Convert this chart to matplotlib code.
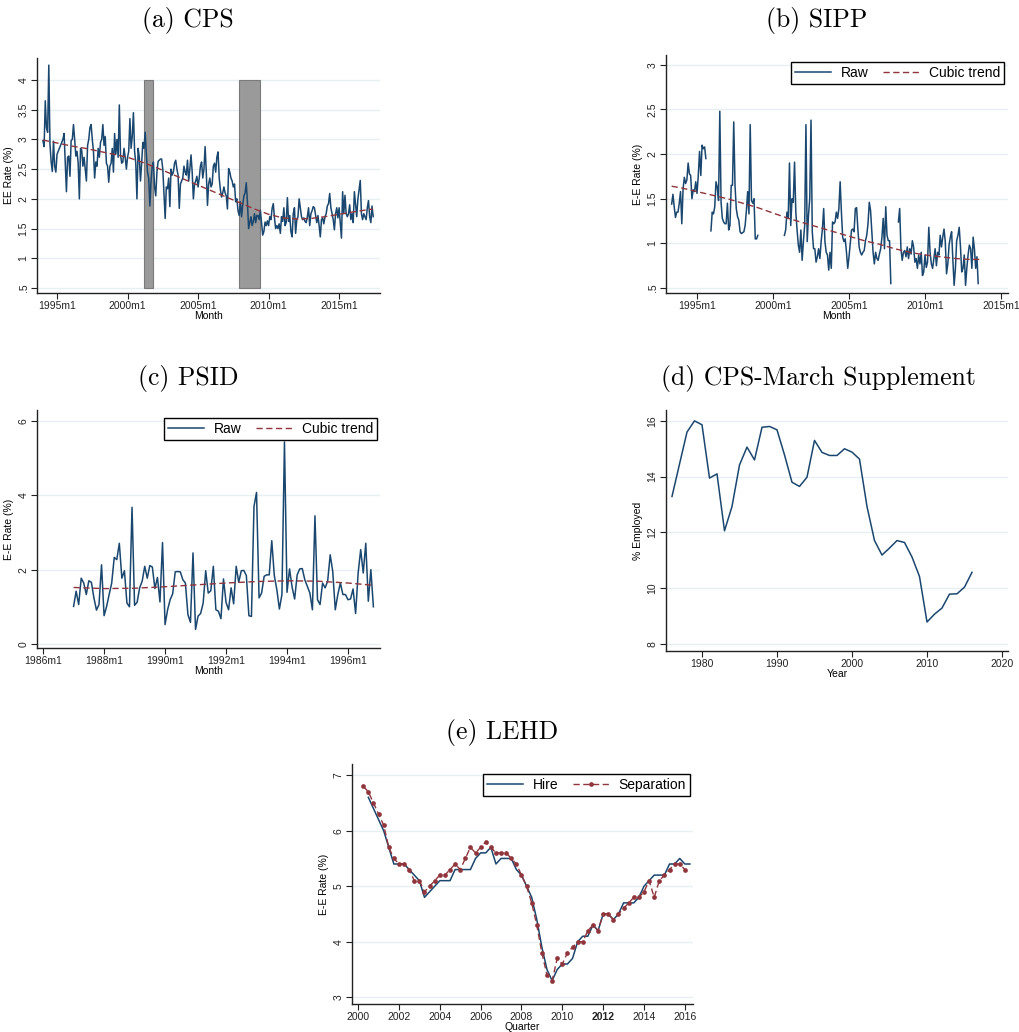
import numpy as np
import matplotlib
matplotlib.use("Agg")
import matplotlib.pyplot as plt
from matplotlib.lines import Line2D

NAVY = "#1a476f"
MAROON = "#90353b"
GRID = "#e6eff1"
SANS = "Liberation Sans"
SERIF = "cmr10"

# ---------------- (a) CPS, monthly EE rate, 1994m1 onward ----------------
cps_start = (1994, 1)
cps_rate = [
    2.98, 2.88, 3.65, 3.20, 3.12, 4.25, 2.92, 2.62, 2.46, 2.97, 2.55, 2.45,
    2.75, 2.80, 2.85, 2.90, 2.95, 3.00, 3.10, 2.60, 2.12, 2.70, 2.72, 2.38,
    2.98, 3.00, 3.25, 3.00, 2.72, 2.80, 2.60, 2.00, 2.85, 2.82, 2.55, 2.70,
    2.50, 2.30, 2.90, 3.00, 3.20, 3.25, 3.00, 2.80, 2.35, 2.62, 2.55, 2.85,
    2.70, 2.95, 3.00, 3.25, 2.90, 3.05, 2.60, 2.55, 2.28, 2.55, 2.60, 2.85,
    2.45, 3.10, 2.75, 3.00, 2.70, 3.58, 2.75, 2.60, 2.62, 2.85, 2.70, 2.50,
    2.70, 2.80, 3.35, 2.85, 3.05, 3.45, 2.80, 2.60, 2.00, 2.85, 2.70, 2.30,
    2.60, 2.95, 2.85, 3.12, 2.75, 2.45, 2.35, 1.88, 2.30, 2.55, 2.62, 2.20,
    2.05, 2.45, 2.63, 2.65, 2.67, 2.67, 2.50, 2.10, 1.67, 2.20, 2.17, 2.35,
    1.87, 2.50, 2.40, 2.45, 2.60, 2.65, 2.50, 2.40, 1.84, 2.25, 2.30, 2.35,
    2.55, 2.45, 2.40, 2.65, 2.30, 2.50, 2.74, 2.45, 2.00, 2.25, 2.30, 2.38,
    2.20, 2.35, 2.55, 2.62, 2.35, 2.50, 2.88, 2.45, 1.89, 2.25, 2.35, 2.20,
    2.25, 2.55, 2.60, 2.45, 2.70, 2.79, 2.35, 2.15, 2.03, 2.10, 2.20, 2.10,
    2.05, 1.83, 2.51, 2.45, 2.35, 2.30, 2.20, 2.25, 1.95, 2.00, 1.80, 1.72,
    1.95, 1.70, 1.90, 2.05, 2.10, 2.27, 1.95, 1.50, 1.60, 1.70, 1.55, 1.62,
    1.75, 1.60, 1.72, 1.72, 1.65, 1.81, 1.60, 1.39, 1.45, 1.61, 1.55, 1.63,
    1.55, 1.70, 1.65, 1.84, 1.92, 1.68, 1.50, 1.55, 1.50, 1.58, 1.42, 1.70,
    1.62, 1.85, 1.55, 1.60, 2.02, 1.62, 1.72, 1.45, 1.36, 1.75, 1.85, 1.42,
    1.65, 1.70, 2.00, 1.85, 1.70, 1.65, 1.68, 1.62, 1.60, 1.70, 1.85, 1.55,
    1.75, 1.80, 1.87, 1.85, 1.72, 1.60, 1.72, 1.55, 1.36, 1.65, 1.68, 1.58,
    1.70, 1.75, 1.88, 1.92, 2.09, 1.85, 1.75, 1.65, 1.48, 1.75, 1.85, 1.68,
    1.85, 1.60, 1.34, 2.12, 1.75, 2.06, 1.75, 1.70, 1.75, 1.90, 1.65, 1.75,
    1.60, 2.12, 1.90, 1.70, 2.00, 2.15, 2.31, 1.75, 1.65, 1.75, 1.70, 1.65,
    1.85, 1.97, 1.70, 1.60, 1.88, 1.70,
]
# cubic trend of the CPS series, sampled yearly
cps_trend_x = [1994.0, 1995, 1996, 1997, 1998, 1999, 2000, 2001, 2002, 2003,
               2004, 2005, 2006, 2007, 2008, 2009, 2010, 2011, 2012, 2013,
               2014, 2015, 2016, 2017.4]
cps_trend = [2.99, 2.94, 2.89, 2.85, 2.80, 2.75, 2.70, 2.62, 2.53, 2.43,
             2.33, 2.23, 2.13, 2.03, 1.93, 1.83, 1.74, 1.68, 1.66, 1.67,
             1.70, 1.74, 1.78, 1.83]
# NBER recessions (first month, last month)
recessions = [((2001, 3), (2001, 11)), ((2007, 12), (2009, 6))]

# ---------------- (b) SIPP, monthly E-E rate (None = no panel coverage) ----------------
sipp_start = (1993, 5)
sipp_rate = [
    1.44, 1.55, 1.41, 1.29, 1.35, 1.35, 1.45, 1.58, 1.22, 1.61,
    1.74, 1.67, 1.71, 1.90, 1.78, 1.76, 1.50, 1.60, 1.58, 1.69,
    1.56, 1.76, 2.03, 1.76, 2.10, 2.06, 2.08, 1.95,
    None, None, None,
    1.14, 1.35, 1.33, 1.41, 1.69, 1.63, 1.48, 2.48, 1.46, 1.28,
    1.24, 1.22, 1.22, 1.45, 1.15, 1.20, 1.65, 1.65, 2.36, 1.65,
    1.39, 1.30, 1.26, 1.13, 1.11, 1.12, 1.13, 1.20, 1.37, 1.58,
    1.33, 2.33, 1.48, 1.45, 1.50, 1.05, 1.05, 1.09,
    None, None, None, None, None, None, None, None, None, None,
    None, None, None, None, None, None, None, None, None, None,
    1.09, 1.15, 1.35, 1.28, 1.90, 1.20, 1.50, 1.46, 1.91, 1.35,
    1.15, 0.98, 0.90, 1.15, 0.81, 1.02, 1.20, 2.33, 1.02, 1.31,
    1.50, 2.38, 1.13, 0.94, 0.94, 0.79, 0.85, 0.94, 0.83, 1.02,
    1.16, 1.39, 1.02, 0.90, 0.87, 0.70, 0.90, 0.72, 1.24, 1.22,
    1.24, 1.35, 1.28, 1.39, 1.69, 1.35, 1.07, 1.02, 1.05, 0.90,
    0.72, 0.85, 1.00, 1.15, 1.16, 1.13, 1.39, 1.40, 1.16, 0.96,
    0.90, 0.87, 0.90, 0.92, 1.03, 1.09, 1.22, 1.46, 1.37, 1.13,
    0.90, 0.77, 0.90, 0.83, 0.81, 0.88, 0.94, 1.07, 1.28, 0.94,
    1.41, 1.09, 1.03, 1.03, 0.55,
    None, None, None, None, None,
    1.24, 1.39, 0.94, 0.81, 0.90, 0.92, 0.85, 0.96, 0.83, 0.94,
    0.88, 1.03, 0.96, 0.79, 0.83, 0.72, 0.87, 0.77, 0.90, 0.64,
    0.68, 0.87, 0.73, 0.79, 1.18, 0.90, 0.77, 0.72, 0.83, 0.94,
    0.75, 0.90, 0.87, 1.09, 0.96, 1.07, 1.16, 1.02, 0.66, 0.77,
    0.98, 1.07, 1.13, 0.81, 0.53, 0.72, 1.03, 1.09, 1.18, 0.96,
    0.68, 0.72, 0.87, 0.53, 0.72, 0.87, 0.98, 0.94, 0.72, 1.07,
    0.94, 0.72, 0.85, 0.55,
]
sipp_trend_x = [1993.33, 1994, 1995, 1996, 1997, 1998, 1999, 2000, 2001, 2002,
                2003, 2004, 2005, 2006, 2007, 2008, 2009, 2010, 2011, 2012,
                2013, 2013.67]
sipp_trend = [1.64, 1.62, 1.58, 1.54, 1.50, 1.45, 1.40, 1.34, 1.28, 1.23,
              1.18, 1.13, 1.08, 1.03, 0.99, 0.94, 0.90, 0.87, 0.85, 0.83,
              0.82, 0.82]

# ---------------- (c) PSID, monthly E-E rate, 1987m1 onward ----------------
psid_start = (1987, 1)
psid_rate = [
    1.01, 1.42, 1.06, 1.77, 1.64, 1.33, 1.70, 1.66, 1.24, 0.91,
    1.06, 2.13, 0.76, 1.01, 1.33, 1.64, 2.33, 2.27, 2.71, 1.77,
    1.97, 1.10, 1.00, 3.68, 1.04, 1.12, 1.51, 1.69, 2.09, 1.77,
    2.11, 2.07, 1.49, 1.79, 1.13, 2.73, 0.52, 0.92, 1.19, 1.35,
    1.94, 1.95, 1.94, 1.73, 1.64, 0.79, 0.58, 2.45, 0.39, 0.75,
    0.82, 1.10, 1.97, 1.37, 1.43, 2.09, 0.92, 0.88, 0.68, 1.75,
    1.12, 0.92, 1.51, 1.08, 2.09, 1.66, 1.97, 1.98, 1.84, 0.76,
    0.74, 3.70, 4.08, 1.24, 1.37, 1.82, 1.86, 1.86, 2.78, 1.84,
    1.46, 0.94, 1.33, 5.44, 1.39, 2.02, 1.53, 1.21, 1.86, 2.02,
    2.03, 1.73, 1.55, 1.37, 0.92, 3.45, 1.19, 1.06, 1.64, 1.51,
    1.69, 2.40, 1.95, 0.92, 1.33, 1.64, 1.33, 1.33, 1.19, 1.21,
    1.48, 0.82, 1.91, 2.54, 1.91, 2.71, 1.15, 2.00, 1.00,
]
psid_trend_x = [1987.0, 1988, 1989, 1990, 1991, 1992, 1993, 1994, 1995, 1996, 1996.83]
psid_trend = [1.52, 1.49, 1.50, 1.54, 1.59, 1.64, 1.68, 1.70, 1.69, 1.64, 1.58]

# ---------------- (d) CPS March Supplement, annual ----------------
march_years = list(range(1976, 2017))
march_pct = [
    13.29, 14.45, 15.60, 16.00, 15.86, 13.95, 14.10, 12.06, 12.93, 14.42,
    15.06, 14.60, 15.77, 15.80, 15.68, 14.78, 13.80, 13.65, 13.98, 15.30,
    14.87, 14.76, 14.76, 15.00, 14.88, 14.63, 12.93, 11.71, 11.19, 11.44,
    11.71, 11.64, 11.12, 10.42, 8.79, 9.07, 9.29, 9.79, 9.80, 10.04,
    10.57,
]

# ---------------- (e) LEHD, quarterly E-E rates ----------------
hire_start = (2000, 3)
hire_rate = [
    6.6, 6.4, 6.2, 6.0, 5.7, 5.4, 5.4, 5.4, 5.3, 5.2,
    5.1, 4.8, 4.9, 5.0, 5.1, 5.1, 5.1, 5.3, 5.3, 5.3,
    5.3, 5.5, 5.6, 5.6, 5.7, 5.4, 5.5, 5.5, 5.5, 5.3,
    5.2, 5.0, 4.8, 4.4, 3.9, 3.5, 3.3, 3.5, 3.6, 3.6,
    3.7, 4.0, 4.1, 4.1, 4.3, 4.2, 4.5, 4.5, 4.4, 4.5,
    4.7, 4.7, 4.7, 4.8, 5.0, 5.1, 5.2, 5.2, 5.2, 5.4,
    5.4, 5.5, 5.4, 5.4,
]
sep_start = (2000, 2)
sep_rate = [
    6.8, 6.7, 6.5, 6.3, 6.1, 5.7, 5.5, 5.4, 5.4, 5.3,
    5.1, 5.1, 4.9, 5.0, 5.1, 5.2, 5.2, 5.3, 5.4, 5.3,
    5.5, 5.7, 5.6, 5.7, 5.8, 5.7, 5.6, 5.6, 5.6, 5.5,
    5.4, 5.2, 5.0, 4.7, 4.3, 3.8, 3.4, 3.3, 3.7, 3.6,
    3.8, 3.9, 4.0, 4.0, 4.2, 4.3, 4.2, 4.5, 4.5, 4.4,
    4.5, 4.6, 4.7, 4.8, 4.8, 4.9, 5.1, 4.8, 5.1, 5.2,
    5.3, 5.4, 5.4, 5.3,
]


def monthly_axis(start, n):
    y, m = start
    return y + (m - 1) / 12 + np.arange(n) / 12


def quarterly_axis(start, n):
    y, q = start
    return y + (q - 1) / 4 + np.arange(n) / 4


def as_array(values):
    return np.array([np.nan if v is None else v for v in values], dtype=float)


W, H = 1020, 1032
fig = plt.figure(figsize=(W / 100, H / 100), dpi=100)


def panel(left, top, right, bottom):
    return fig.add_axes([left / W, 1 - bottom / H, (right - left) / W, (bottom - top) / H])


def style(ax, xlim, ylim, xticks, xlabels, yticks, ylabels, xlabel, ylabel,
          bold=(), xlabelpad=0):
    ax.set_xlim(*xlim)
    ax.set_ylim(*ylim)
    for s in ("top", "right"):
        ax.spines[s].set_visible(False)
    for s in ("left", "bottom"):
        ax.spines[s].set_linewidth(1.0)
        ax.spines[s].set_color("#222222")
    ax.set_xticks(xticks)
    ax.set_xticklabels(xlabels, fontfamily=SANS, fontsize=7.5)
    ax.set_yticks(yticks)
    ax.set_yticklabels(ylabels, fontfamily=SANS, fontsize=7.5, rotation=90, va="center")
    for lab in ax.get_xticklabels():
        if lab.get_text() in bold:
            lab.set_fontweight("bold")
    ax.tick_params(direction="out", length=4, width=0.8, colors="#222222", pad=2)
    ax.grid(axis="y", color=GRID, lw=1.0)
    ax.set_axisbelow(True)
    ax.set_xlabel(xlabel, fontfamily=SANS, fontsize=7.5, labelpad=xlabelpad)
    ax.set_ylabel(ylabel, fontfamily=SANS, fontsize=7.5, labelpad=3)


def boxed_legend(ax, handles, labels, anchor):
    leg = ax.legend(handles, labels, ncol=2, loc="upper right",
                    bbox_to_anchor=(anchor[0] / W, 1 - anchor[1] / H),
                    bbox_transform=fig.transFigure, frameon=True, fancybox=False,
                    framealpha=1, edgecolor="black", handlelength=2.6,
                    columnspacing=1.0, handletextpad=0.7, borderpad=0.3,
                    borderaxespad=0, prop={"family": SANS, "size": 10})
    leg.get_frame().set_linewidth(1.0)


def title(x, y, text):
    fig.text(x / W, 1 - y / H, text, fontfamily=SERIF, fontsize=18.5,
             ha="center", va="center")


dash = (0, (4.5, 2.5))
LW = 1.1
month_ticks_a = [1995, 2000, 2005, 2010, 2015]

# (a) CPS
ax = panel(37, 58, 380, 293)
xa = monthly_axis(cps_start, len(cps_rate))
for (y0, m0), (y1, m1) in recessions:
    x0 = y0 + (m0 - 1) / 12
    x1 = y1 + (m1 - 1) / 12
    ax.bar(x0, 3.5, bottom=0.5, width=x1 - x0, align="edge",
           color="#9a9a9a", edgecolor="#7a7a7a", linewidth=0.8, zorder=2)
ax.plot(xa, cps_rate, color=NAVY, lw=LW, zorder=3)
ax.plot(cps_trend_x, cps_trend, color=MAROON, lw=1.0, ls=dash, zorder=4)
style(ax, (1993.58, 2017.9), (0.416, 4.37), month_ticks_a,
      [f"{y}m1" for y in month_ticks_a],
      [0.5, 1, 1.5, 2, 2.5, 3, 3.5, 4], [".5", "1", "1.5", "2", "2.5", "3", "3.5", "4"],
      "Month", "EE Rate (%)")
title(188, 20, "(a) CPS")

# (b) SIPP
ax = panel(666, 55, 1008, 293)
xb = monthly_axis(sipp_start, len(sipp_rate))
ax.plot(xb, as_array(sipp_rate), color=NAVY, lw=LW, zorder=3)
ax.plot(sipp_trend_x, sipp_trend, color=MAROON, lw=1.0, ls=dash, zorder=4)
style(ax, (1992.96, 2015.46), (0.444, 3.11), month_ticks_a,
      [f"{y}m1" for y in month_ticks_a],
      [0.5, 1, 1.5, 2, 2.5, 3], [".5", "1", "1.5", "2", "2.5", "3"],
      "Month", "E-E Rate (%)")
boxed_legend(ax, [Line2D([], [], color=NAVY, lw=LW),
                  Line2D([], [], color=MAROON, lw=1.0, ls=dash)],
             ["Raw", "Cubic trend"], (1004, 62))
title(817, 20, "(b) SIPP")

# (c) PSID
ax = panel(37, 410, 380, 648)
xc = monthly_axis(psid_start, len(psid_rate))
ax.plot(xc, psid_rate, color=NAVY, lw=LW, zorder=3)
ax.plot(psid_trend_x, psid_trend, color=MAROON, lw=1.0, ls=dash, zorder=4)
psid_ticks = [1986, 1988, 1990, 1992, 1994, 1996]
style(ax, (1985.8, 1997.05), (-0.11, 6.3), psid_ticks,
      [f"{y}m1" for y in psid_ticks],
      [0, 2, 4, 6], ["0", "2", "4", "6"],
      "Month", "E-E Rate (%)")
boxed_legend(ax, [Line2D([], [], color=NAVY, lw=LW),
                  Line2D([], [], color=MAROON, lw=1.0, ls=dash)],
             ["Raw", "Cubic trend"], (377, 418))
title(188, 378, "(c) PSID")

# (d) CPS-March Supplement
ax = panel(666, 410, 1008, 651)
ax.plot(march_years, march_pct, color=NAVY, lw=LW, zorder=3)
style(ax, (1975.2, 2020.8), (7.75, 16.39), [1980, 1990, 2000, 2010, 2020],
      ["1980", "1990", "2000", "2010", "2020"],
      [8, 10, 12, 14, 16], ["8", "10", "12", "14", "16"],
      "Year", "% Employed")
title(818, 378, "(d) CPS-March Supplement")

# (e) LEHD
ax = panel(352, 764, 693, 1004)
xh = quarterly_axis(hire_start, len(hire_rate))
xs = quarterly_axis(sep_start, len(sep_rate))
ax.plot(xh, hire_rate, color=NAVY, lw=LW, zorder=3)
ax.plot(xs, sep_rate, color=MAROON, lw=1.0, ls=dash, marker="o", ms=3.4,
        markeredgewidth=0, zorder=4)
lehd_ticks = list(range(2000, 2017, 2))
style(ax, (1999.7, 2016.4), (2.88, 7.2), lehd_ticks, [str(y) for y in lehd_ticks],
      [3, 4, 5, 6, 7], ["3", "4", "5", "6", "7"],
      "Quarter", "E-E Rate (%)", bold=("2012",), xlabelpad=0)
boxed_legend(ax, [Line2D([], [], color=NAVY, lw=LW),
                  Line2D([], [], color=MAROON, lw=1.0, ls=dash, marker="o",
                         ms=3.4, markeredgewidth=0)],
             ["Hire", "Separation"], (690, 774))
title(502, 733, "(e) LEHD")

fig.savefig("out.png", dpi=100, facecolor="white")
